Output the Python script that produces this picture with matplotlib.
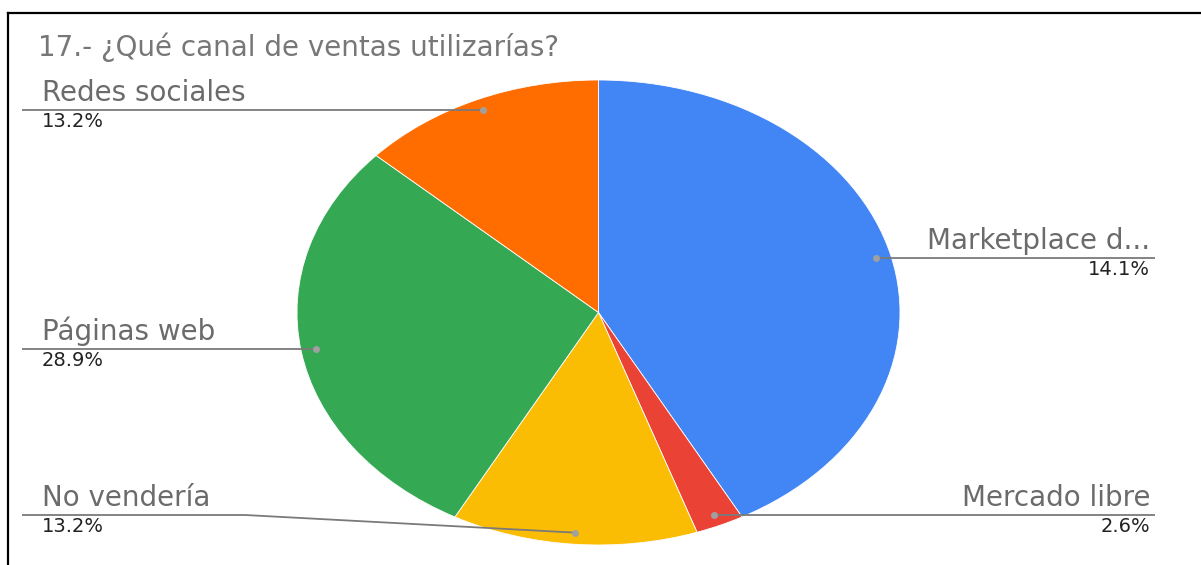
import numpy as np
import matplotlib.pyplot as plt

# Canal de ventas - encuesta pregunta 17
title = "17.- ¿Qué canal de ventas utilizarías?"
canales = ["Marketplace d...", "Mercado libre", "No vendería", "Páginas web", "Redes sociales"]
valores = [42.1, 2.6, 13.2, 28.9, 13.2]
etiquetas_pct = ["14.1%", "2.6%", "13.2%", "28.9%", "13.2%"]
colores = ["#4285F4", "#EA4335", "#FBBC04", "#34A853", "#FF6D01"]

W, H = 1201, 565
fig = plt.figure(figsize=(W / 100, H / 100), dpi=100)
fig.patch.set_facecolor("white")

# pie axes stretched to an ellipse (x 297..900, y 80..545 px)
px0, px1, py0, py1 = 297, 900, 80, 545
pie_ax = fig.add_axes([px0 / W, (H - py1) / H, (px1 - px0) / W, (py1 - py0) / H])
wedges, _ = pie_ax.pie(valores, colors=colores, startangle=90, counterclock=False,
                       wedgeprops=dict(edgecolor="white", linewidth=0.6))
pie_ax.set_aspect("auto")
pie_ax.set_xlim(-1, 1)
pie_ax.set_ylim(-1, 1)
pie_ax.axis("off")

# overlay in pixel coordinates for leader lines and labels
ov = fig.add_axes([0, 0, 1, 1], zorder=5)
ov.set_xlim(0, W)
ov.set_ylim(H, 0)
ov.axis("off")
ov.patch.set_alpha(0)

to_px = lambda p: ov.transData.inverted().transform(pie_ax.transData.transform(p))

# label side / row: (lado, y de la linea o None = altura del punto)
lados = ["right", "right", "left", "left", "left"]
filas = [None, None, 515, None, None]
lab_color = "#6b6b6b"
line_color = "#7a7a7a"

for w, nombre, pct, lado, fila in zip(wedges, canales, etiquetas_pct, lados, filas):
    ang = np.deg2rad((w.theta1 + w.theta2) / 2)
    dx, dy = to_px((0.95 * np.cos(ang), 0.95 * np.sin(ang)))
    ly = dy if fila is None else fila
    if lado == "left":
        xs = [dx, 245, 22] if fila is not None else [dx, 22]
        ys = [dy, ly, ly] if fila is not None else [dy, ly]
        tx, ha = 42, "left"
    else:
        xs, ys = [dx, 1155], [dy, ly]
        tx, ha = 1150, "right"
    ov.plot(xs, ys, color=line_color, lw=1.3, solid_capstyle="butt")
    ov.plot(dx, dy, "o", ms=5, color="#a0a0a0", mec="none")
    ov.text(tx, ly - 3, nombre, ha=ha, va="bottom", fontsize=20, color=lab_color)
    ov.text(tx, ly + 2, pct, ha=ha, va="top", fontsize=14, color="#222222")

ov.text(38, 47, title, ha="left", va="center", fontsize=20, color="#777777")

# black frame (top and left edges)
ov.plot([8, 8], [13, H], color="black", lw=1.6)
ov.plot([8, W], [13, 13], color="black", lw=1.6)

fig.savefig("out.png", dpi=100, facecolor="white")
